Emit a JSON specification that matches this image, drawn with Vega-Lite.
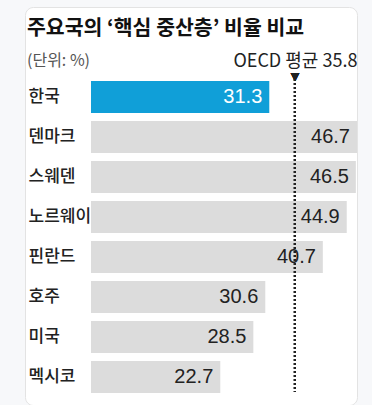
{
  "$schema": "https://vega.github.io/schema/vega-lite/v6.json",
  "width": 332,
  "height": 398,
  "autosize": {"type": "none"},
  "padding": {"left": 25, "top": 7, "right": 15, "bottom": 0},
  "background": "#f7f8fa",
  "config": {
    "view": {"fill": "white", "stroke": "#e3e3e3", "cornerRadius": 8},
    "font": "Noto Sans CJK KR"
  },
  "title": {
    "text": "주요국의 ‘핵심 중산층’ 비율 비교",
    "subtitle": "(단위: %)",
    "anchor": "start",
    "orient": "top",
    "frame": "group",
    "offset": -62,
    "dx": 2,
    "font": "Noto Sans CJK KR",
    "fontSize": 20.5,
    "fontWeight": "bold",
    "color": "#111111",
    "subtitleFont": "Noto Sans CJK KR",
    "subtitleFontSize": 16,
    "subtitleColor": "#555555",
    "subtitlePadding": 14
  },
  "data": {
    "values": [
      {"country": "한국", "value": 31.3},
      {"country": "덴마크", "value": 46.7},
      {"country": "스웨덴", "value": 46.5},
      {"country": "노르웨이", "value": 44.9},
      {"country": "핀란드", "value": 40.7},
      {"country": "호주", "value": 30.6},
      {"country": "미국", "value": 28.5},
      {"country": "멕시코", "value": 22.7}
    ]
  },
  "encoding": {
    "y": {
      "field": "country",
      "type": "nominal",
      "sort": null,
      "scale": {"range": [70, 390], "paddingInner": 0.2, "paddingOuter": 0.1},
      "axis": {
        "orient": "left",
        "title": null,
        "domain": false,
        "ticks": false,
        "labelAlign": "left",
        "labelPadding": -3,
        "labelFont": "Noto Sans CJK KR",
        "labelFontSize": 17,
        "labelFontWeight": 500,
        "labelColor": "#222222"
      }
    }
  },
  "layer": [
    {
      "mark": {"type": "bar"},
      "encoding": {
        "x": {
          "field": "value",
          "type": "quantitative",
          "scale": {"domain": [-11.587, 46.7], "nice": false, "zero": false},
          "axis": {
            "orient": "top",
            "values": [35.8],
            "labelExpr": "'OECD 평균 35.8'",
            "domain": false,
            "ticks": false,
            "grid": false,
            "title": null,
            "offset": -63,
            "labelPadding": 0,
            "labelFlush": false,
            "labelFont": "Noto Sans CJK KR",
            "labelFontSize": 18,
            "labelColor": "#222222"
          }
        },
        "x2": {"datum": 0},
        "color": {
          "condition": {"test": "datum.country === '한국'", "value": "#109fd8"},
          "value": "#dcdcdc"
        }
      }
    },
    {
      "mark": {"type": "text", "align": "right", "baseline": "middle", "dx": -7, "font": "Liberation Sans", "fontSize": 20},
      "encoding": {
        "x": {"field": "value", "type": "quantitative"},
        "text": {"field": "value", "type": "quantitative", "format": ".1f"},
        "color": {
          "condition": {"test": "datum.country === '한국'", "value": "#ffffff"},
          "value": "#222222"
        }
      }
    },
    {
      "mark": {"type": "rule", "color": "#222222", "strokeWidth": 2, "strokeDash": [2, 2]},
      "encoding": {
        "x": {"datum": 35.8},
        "y": {"datum": "한국", "bandPosition": -0.06},
        "y2": {"datum": "멕시코", "bandPosition": 0.97}
      }
    },
    {
      "mark": {"type": "text", "text": "▼", "align": "center", "baseline": "middle", "dy": -20, "font": "DejaVu Sans", "fontSize": 11, "color": "#222222"},
      "encoding": {
        "x": {"datum": 35.8},
        "y": {"datum": "한국"}
      }
    }
  ]
}
